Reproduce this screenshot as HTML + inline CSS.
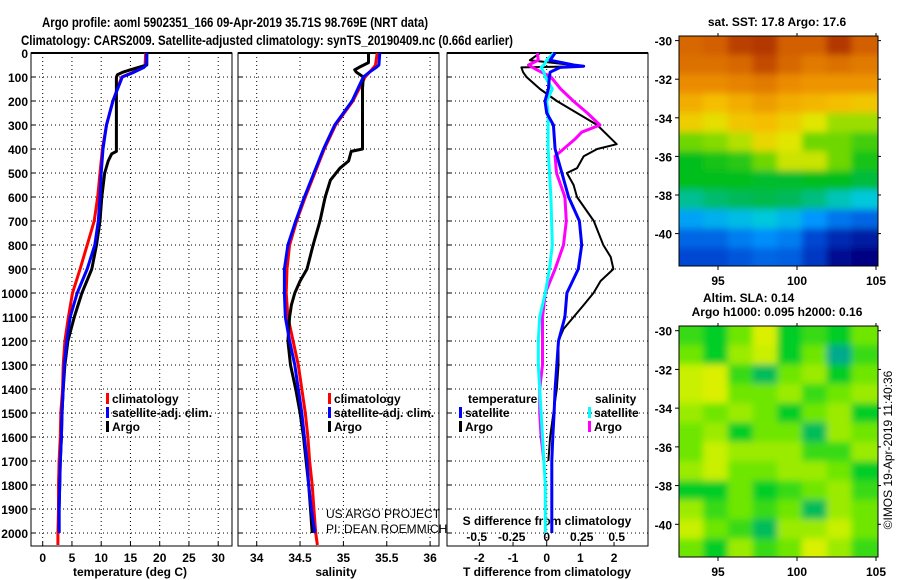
<!DOCTYPE html>
<html><head><meta charset="utf-8"><style>
html,body{margin:0;padding:0;background:#fff}
svg{display:block;font-family:"Liberation Sans",sans-serif}
</style></head><body>
<svg id="fig" width="900" height="580" viewBox="0 0 900 580">
<defs>
<filter id="blur" x="0" y="0" width="1" height="1"><feGaussianBlur stdDeviation="3.5" edgeMode="duplicate"/></filter>
<clipPath id="clipTop"><rect x="679" y="36" width="199" height="230"/></clipPath>
<clipPath id="clipBot"><rect x="679" y="326" width="199" height="231"/></clipPath>
</defs>
<text x="42" y="27" font-size="14" font-weight="bold" textLength="386" lengthAdjust="spacingAndGlyphs">Argo profile: aoml 5902351_166 09-Apr-2019 35.71S 98.769E (NRT data)</text>
<text x="21" y="45" font-size="14" font-weight="bold" textLength="492" lengthAdjust="spacingAndGlyphs">Climatology: CARS2009. Satellite-adjusted climatology: synTS_20190409.nc (0.66d earlier)</text>
<g id="g"></g>
</svg>
<script>
// ---------- data ----------
const depthTicks = [0,100,200,300,400,500,600,700,800,900,1000,1100,1200,1300,1400,1500,1600,1700,1800,1900,2000];
const tempTicks = [0,5,10,15,20,25,30];
const salTicks = [34,34.5,35,35.5,36];
const tdiffTicks = [-2,-1,0,1,2];
const sdiffTicks = [-0.5,-0.25,0,0.25,0.5];

const climDepth = [0,50,60,80,100,200,300,400,500,600,700,800,900,1000,1100,1200,1300,1400,1500,1600,1700,1800,1900,2000,2050];
const tempClim = [17.6,17.5,17.2,15.5,13.5,12.0,10.9,10.2,9.8,9.4,8.8,7.6,6.4,5.1,4.4,3.8,3.5,3.4,3.1,3.0,2.8,2.7,2.7,2.6,2.6];
const satDepth = [0,50,60,80,100,200,300,400,500,600,700,800,900,1000,1100,1200,1300,1400,1500,1600,1700,1800,1900,2000];
const tempSat = [17.8,17.7,17.3,15.6,13.6,12.0,10.9,10.3,10.0,9.8,9.5,8.9,7.6,5.9,4.7,4.1,3.7,3.5,3.3,3.2,3.0,2.9,2.8,2.8];
const argoDepth = [0,50,70,80,90,100,200,300,410,420,450,500,600,700,800,900,1000,1100,1200,1300,1400,1500,1600,1700,1800,1900,2000];
const tempArgo = [17.8,17.8,15.0,13.7,12.8,12.6,12.6,12.6,12.6,11.8,11.2,10.6,10.1,9.8,9.2,8.4,6.7,5.4,4.3,3.8,3.5,3.3,3.2,3.0,2.9,2.8,2.8];

const salClim = [35.39,35.37,35.35,35.3,35.25,35.11,34.91,34.78,34.67,34.56,34.46,34.38,34.35,34.34,34.36,34.42,34.48,34.52,34.56,34.59,34.61,34.64,34.66,34.68,34.70];
const salSat = [35.42,35.41,35.38,35.3,35.23,35.1,34.9,34.77,34.66,34.55,34.45,34.36,34.32,34.32,34.33,34.38,34.44,34.48,34.52,34.55,34.58,34.6,34.63,34.67];
const salArgoDepth = [0,40,60,70,80,100,150,400,410,450,480,530,600,700,800,900,950,1000,1050,1100,1200,1300,1400,1500,1600,1700,1800,1900,2000];
const salArgo = [35.29,35.29,35.18,35.13,35.15,35.23,35.22,35.22,35.09,35.06,34.96,34.85,34.79,34.73,34.65,34.58,34.5,34.44,34.40,34.38,34.36,34.39,34.45,34.5,34.54,34.57,34.6,34.62,34.64];

const dDepth = [0,30,50,55,60,80,100,150,200,250,300,400,500,600,700,800,900,1000,1100,1200,1300,1400,1500,1600,1700,1800,1900,2000];
const tdiffSat = [0.25,0.1,0.8,1.1,0.4,0.1,0.08,0.05,-0.05,0,0.2,0.25,0.45,0.65,0.97,1.04,0.94,0.6,0.54,0.35,0.3,0.25,0.22,0.18,0.15,0.15,0.15,0.15];
const tdArgoDepth = [0,30,55,60,80,100,150,200,250,300,380,400,430,480,500,550,600,700,800,850,900,950,1000,1050,1100,1150,1200,1300,1400,1500,1600,1700];
const tdiffArgo = [-0.2,-0.5,1.1,-0.75,-0.7,-0.6,-0.2,0.3,0.9,1.5,2.08,1.5,1.1,0.9,0.6,0.8,0.9,1.4,1.68,1.9,1.98,1.6,1.39,1.1,0.8,0.5,0.35,0.35,0.3,0.2,0.1,0.05];
const sdiffSat = [0.05,0.0,-0.02,-0.03,-0.04,-0.02,-0.01,0.04,0,0.01,0.01,0.01,0.02,0.03,0.035,0.04,0.02,-0.01,-0.05,-0.06,-0.06,-0.05,-0.04,-0.03,-0.02,-0.01,-0.01,-0.01];
const sdArgoDepth = [0,30,50,70,100,150,200,250,300,330,360,400,430,500,600,700,800,900,1000,1100,1200,1300,1400,1500,1600,1700];
const sdiffArgo = [-0.067,-0.06,-0.13,-0.07,0.03,0.1,0.19,0.29,0.38,0.25,0.2,0.12,0.06,0.07,0.13,0.14,0.12,0.06,-0.01,-0.03,-0.03,-0.03,-0.05,-0.05,-0.04,-0.02];

const mapLons = [92.5,94.06,95.62,97.19,98.75,100.31,101.88,103.44];
const mapLats = [-30,-31,-32,-33,-34,-35,-36,-37,-38,-39,-40,-41];
const sstGrid = [
[19.4,19.5,19.8,19.9,19.5,19.5,19.9,19.5],
[19.3,19.3,19.4,19.7,19.4,19.2,19.3,19.2],
[19,19,19.1,19.2,19,18.9,18.9,18.9],
[18.6,18.4,18.6,18.8,18.6,18.5,18.4,18.3],
[18.2,18.0,18.3,18.4,18.2,17.9,17.6,17.6],
[17.4,17.5,17.7,18.1,17.9,17.4,17.4,17.2],
[16.9,17.0,17.1,17.4,17.8,17.8,17.4,17.0],
[16.9,16.9,16.9,16.8,16.8,16.9,16.9,16.7],
[16.2,16.4,16.5,16.6,16.5,16.3,16.0,15.8],
[15.2,15.4,15.6,15.8,15.5,15.0,14.6,14.4],
[14.4,14.4,14.7,14.9,14.7,14.0,13.6,13.4],
[14.0,14.0,14.2,14.4,14.3,13.8,13.2,13.0]];
const slaGrid = [
[.4,.3,.5,.8,.3,.4,.3,.5],
[.5,.3,.6,.7,.3,.5,.1,.4],
[.7,.8,.4,.2,.5,.6,.3,.5],
[.7,.8,.5,.5,.6,.4,.5,.6],
[.6,.5,.6,.5,.3,.5,.6,.3],
[.5,.6,.3,.5,.5,.2,.6,.5],
[.5,.7,.6,.6,.6,.4,.4,.6],
[.6,.7,.5,.5,.6,.6,.5,.3],
[.3,.3,.5,.3,.4,.5,.6,.4],
[.6,.4,.5,.4,.5,.2,.6,.5],
[.7,.5,.4,.2,.6,.6,.7,.5],
[.5,.3,.6,.4,.5,.8,.6,.4]];
const mapLatTicks = [-30,-32,-34,-36,-38,-40];
const mapLonTicks = [95,100,105];

// ---------- helpers ----------
const NS="http://www.w3.org/2000/svg";
const G=document.getElementById('g');
function mk(tag,attrs,parent){const e=document.createElementNS(NS,tag);for(const k in attrs)e.setAttribute(k,attrs[k]);(parent||G).appendChild(e);return e;}
function txt(x,y,s,size,anchor,weight,name){const t=mk('text',{x:x,y:y,'font-size':size,'text-anchor':anchor||'start','font-weight':weight||'bold'});t.textContent=s;


return t;}

const PT=53, PB=546;
const yD = d => PT + d*0.24;
const panels=[{x0:31,x1:232},{x0:238,x1:439},{x0:447,x1:648}];
const xT = v => 42.7 + v*5.85;
const xS = v => 256.7 + (v-34)*86.7;
const xTD = v => 546.7 + v*33.67;
const xSD = v => 546.7 + v*140;

panels.forEach((p,i)=>{
  const f=mk('rect',{x:p.x0,y:PT,width:p.x1-p.x0,height:PB-PT,fill:'#fff',stroke:'#000','stroke-width':1});
  
  
  mk('line',{x1:p.x0,y1:PT,x2:p.x1,y2:PT,stroke:'#000','stroke-width':2});
  depthTicks.forEach(d=>{
    const l=mk('line',{x1:p.x0,y1:yD(d),x2:p.x1,y2:yD(d),stroke:'#000','stroke-width':1,'stroke-dasharray':'1,3'});
    
    
    mk('line',{x1:p.x0,y1:yD(d),x2:p.x0+4,y2:yD(d),stroke:'#000'});
  });
});
depthTicks.forEach(d=>{txt(28,yD(d)+5,String(d),12,'end','bold','depth-tick-label');});

function vgrid(ticks,fx,name){ticks.forEach(v=>{
  const l=mk('line',{x1:fx(v),y1:PT,x2:fx(v),y2:PB,stroke:'#000','stroke-dasharray':'1,3'});
  
  
  mk('line',{x1:fx(v),y1:PB,x2:fx(v),y2:PB-4,stroke:'#000'});
  txt(fx(v),562,String(v),12,'middle','bold',name+'-tick-label');
});}
vgrid(tempTicks,xT,'temperature');
vgrid(salTicks,xS,'salinity');
tdiffTicks.forEach(v=>{
  if(v===0){const l=mk('line',{x1:xTD(v),y1:PT,x2:xTD(v),y2:PB,stroke:'#000','stroke-dasharray':'1,3'});
  
  }
  mk('line',{x1:xTD(v),y1:PB,x2:xTD(v),y2:PB-4,stroke:'#000'});
  txt(xTD(v),562,String(v),12,'middle','bold','t-diff-tick-label');
});
sdiffTicks.forEach(v=>{txt(xSD(v),541,String(v),12,'middle','bold','s-diff-tick-label');});
txt(547,525,'S difference from climatology',12,'middle','bold','s-diff-axis-title');
txt(130,576,'temperature (deg C)',12,'middle','bold','temperature-axis-title');
txt(336,576,'salinity',12,'middle','bold','salinity-axis-title');
txt(547,576,'T difference from climatology',12,'middle','bold','t-diff-axis-title');

function line(depths,vals,fx,color,w,name){
  const pts=depths.map((d,i)=>fx(vals[i]).toFixed(1)+','+yD(d).toFixed(1)).join(' ');
  const e=mk('polyline',{points:pts,fill:'none',stroke:color,'stroke-width':w,'stroke-linejoin':'round'});
  
  
}
line(climDepth,tempClim,xT,'#f00',3,'temperature-climatology-line');
line(argoDepth,tempArgo,xT,'#000',3,'temperature-argo-line');
line(satDepth,tempSat,xT,'#00f',3,'temperature-satellite-line');
line(climDepth,salClim,xS,'#f00',3,'salinity-climatology-line');
line(salArgoDepth,salArgo,xS,'#000',3,'salinity-argo-line');
line(satDepth,salSat,xS,'#00f',3,'salinity-satellite-line');
line(tdArgoDepth,tdiffArgo,xTD,'#000',2,'t-diff-argo-line');
line(sdArgoDepth,sdiffArgo,xSD,'#f0f',3,'s-diff-argo-line');
line(dDepth,sdiffSat,xSD,'#0ff',3,'s-diff-satellite-line');
line(dDepth,tdiffSat,xTD,'#00f',3,'t-diff-satellite-line');

function legend(x,y,color,label,name){
  const r=mk('rect',{x:x,y:y-10,width:3,height:11,fill:color});
  
  
  txt(x+6,y,label,12,'start','bold',name+'-label');
}
legend(106,403,'#f00','climatology','legend-temp-climatology');
legend(106,417,'#00f','satellite-adj. clim.','legend-temp-satellite');
legend(106,431,'#000','Argo','legend-temp-argo');
legend(328,403,'#f00','climatology','legend-sal-climatology');
legend(328,417,'#00f','satellite-adj. clim.','legend-sal-satellite');
legend(328,431,'#000','Argo','legend-sal-argo');
txt(468,403,'temperature',12,'start','bold','legend-temperature-heading');
legend(459,417,'#00f','satellite','legend-tdiff-satellite');
legend(459,431,'#000','Argo','legend-tdiff-argo');
txt(595,403,'salinity',12,'start','bold','legend-salinity-heading');
legend(588,417,'#0ff','satellite','legend-sdiff-satellite');
legend(588,431,'#f0f','Argo','legend-sdiff-argo');
txt(326,518,'US ARGO PROJECT',12,'start','normal','credit-project');
txt(326,533,'PI: DEAN ROEMMICH',12,'start','normal','credit-pi');

// ---------- maps ----------
function lerp(stops,v){
  if(v<=stops[0][0])return 'rgb('+stops[0][1].join(',')+')';
  for(let i=1;i<stops.length;i++){if(v<=stops[i][0]){const a=stops[i-1],b=stops[i],t=(v-a[0])/(b[0]-a[0]);
    return 'rgb('+a[1].map((c,k)=>Math.round(c+(b[1][k]-c)*t)).join(',')+')';}}
  return 'rgb('+stops[stops.length-1][1].join(',')+')';
}
const sstStops=[[13,[0,0,130]],[14,[0,70,210]],[15,[0,150,255]],[15.8,[0,200,220]],[16.5,[0,185,90]],[16.9,[0,190,30]],[17.4,[110,215,0]],[17.9,[225,230,0]],[18.4,[245,190,0]],[19.0,[235,140,0]],[19.5,[210,95,0]],[20,[170,45,0]]];
const slaStops=[[0.1,[0,170,140]],[0.3,[0,205,40]],[0.5,[110,230,0]],[0.7,[200,240,0]],[0.9,[235,240,0]]];

function drawMap(top,bot,latTop,degPx,grid,stops,name,clip){
  const X0=679,X1=878;
  const lonX=lon=>718+(lon-95)*15.8;
  const latY=lat=>latTop+(-30-lat)*degPx;
  const wrap=mk('g',{'clip-path':'url(#'+clip+')'});
  const gm=mk('g',{filter:'url(#blur)'},wrap);
  
  
  mapLats.forEach((lat,r)=>mapLons.forEach((lon,c)=>{
    const x=lonX(lon)-(c===0?10:0),y=latY(lat+0.26)-(r===0?10:0);
    const x2=lonX(lon+1.57)+(c===7?10:0),y2=latY(lat-0.74)+(r===11?10:0);
    const cell=mk('rect',{x:x,y:y,width:x2-x+0.5,height:y2-y+0.5,fill:lerp(stops,grid[r][c])},gm);
    
    
  }));
  mk('rect',{x:X0,y:top,width:X1-X0,height:bot-top,fill:'none',stroke:'#000'});
  mapLatTicks.forEach(l=>{const y=latY(l);
    mk('line',{x1:X0-4,y1:y,x2:X0,y2:y,stroke:'#000'});mk('line',{x1:X1,y1:y,x2:X1+3,y2:y,stroke:'#000'});
    txt(672,y+5,String(l),12,'end','bold',name+'-lat-label');});
  mapLonTicks.forEach(l=>{const x=lonX(l);
    mk('line',{x1:x,y1:bot,x2:x,y2:bot+4,stroke:'#000'});
    mk('line',{x1:x,y1:top,x2:x,y2:top-3,stroke:'#000'});
    txt(x,bot+19,String(l),12,'middle','bold',name+'-lon-label');});
}
drawMap(36,266,40.6,19.3,sstGrid,sstStops,'sst-map','clipTop');
drawMap(326,557,330.7,19.36,slaGrid,slaStops,'sla-map','clipBot');
txt(777,26,'sat. SST: 17.8 Argo: 17.6',12,'middle','bold','sst-map-title');
txt(703,302,'Altim. SLA: 0.14',12,'start','bold','sla-map-title');
txt(777,316,'Argo h1000: 0.095 h2000: 0.16',12,'middle','bold','sla-map-subtitle');
const stamp=txt(0,0,'©IMOS 19-Apr-2019 11:40:36',12,'middle','normal','timestamp');
stamp.setAttribute('transform','translate(892,450) rotate(-90)');
</script>
</body></html>
